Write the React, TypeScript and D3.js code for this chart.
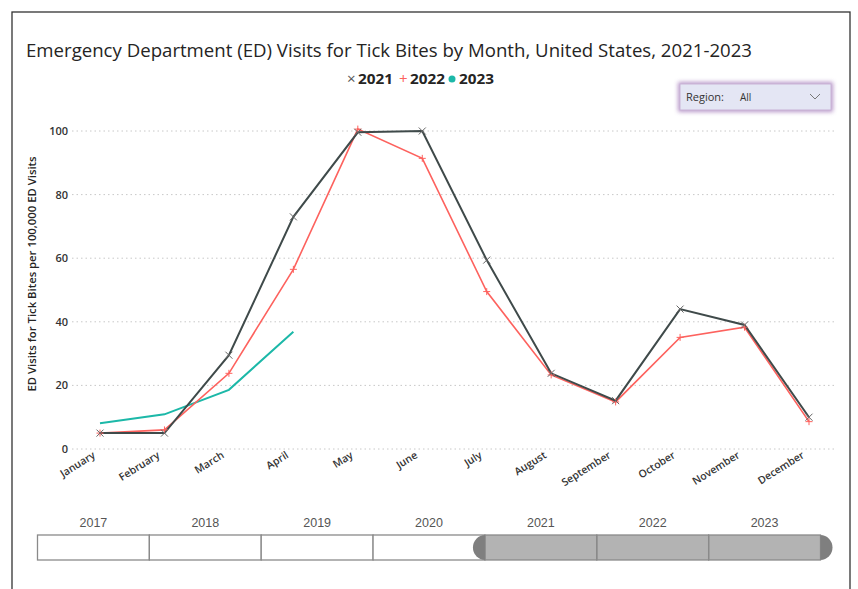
import React from "react";
import * as d3 from "d3";

const months = ["January","February","March","April","May","June","July","August","September","October","November","December"];
const series2021 = [5, 5, 29.5, 73, 99.6, 100, 59.4, 23.8, 15.2, 44, 39, 10];
const series2022 = [5, 6, 23.8, 56.5, 100.6, 91.4, 49.5, 23.3, 14.8, 35.1, 38.3, 8.6];
const series2023 = [8.1, 10.9, 18.6, 36.9];
const yTicks = [0, 20, 40, 60, 80, 100];
const years = ["2017","2018","2019","2020","2021","2022","2023"];
const selectedYears = ["2021","2022","2023"];

const C2021 = "#3f4a4a";
const C2022 = "#fd625e";
const C2023 = "#1cb8a8";
const FONT = "'Open Sans', 'Noto Sans', sans-serif";

export default function App() {
  const x = d3.scalePoint<string>().domain(months).range([100, 809]);
  const y = d3.scaleLinear().domain([0, 100]).range([449, 131]);
  const line = d3.line<number>().x((_, i) => x(months[i]) as number).y((d) => y(d));
  const yearX = d3.scaleBand<string>().domain(years).range([37.5, 820.5]);

  const selStart = yearX(selectedYears[0]) as number;
  const selEnd = (yearX(selectedYears[selectedYears.length - 1]) as number) + yearX.bandwidth();
  const top = 535, bot = 560;

  return (
    <svg width={858} height={589} style={{ position: "absolute", left: 0, top: 0, background: "#fff" }} fontFamily={FONT}>
      <defs>
        <filter id="glow" x="-10%" y="-30%" width="120%" height="160%">
          <feGaussianBlur stdDeviation="2" />
        </filter>
      </defs>
      <rect x={0} y={0} width={858} height={589} fill="#fff" />
      <rect x={12} y={12} width={838} height={620} fill="none" stroke="#333" strokeWidth={1.3} />

      {/* Title */}
      <text x={26} y={57} fontSize={19} fill="#252423" textLength={726} lengthAdjust="spacingAndGlyphs">
        Emergency Department (ED) Visits for Tick Bites by Month, United States, 2021-2023
      </text>

      {/* Legend */}
      <g fontSize={14} fontWeight={700} fill="#252423">
        <text x={347} y={84} fontWeight={400} fill="#555" fontSize={15}>×</text>
        <text x={358} y={84} textLength={35} lengthAdjust="spacingAndGlyphs">2021</text>
        <text x={399} y={84} fontWeight={400} fill={C2022} fontSize={15}>+</text>
        <text x={410} y={84} textLength={35} lengthAdjust="spacingAndGlyphs">2022</text>
        <circle cx={452} cy={79} r={3.5} fill={C2023} />
        <text x={459} y={84} textLength={35} lengthAdjust="spacingAndGlyphs">2023</text>
      </g>

      {/* Region slicer */}
      <rect x={678} y={82} width={155} height={30} fill="#a77fbd" opacity={0.8} filter="url(#glow)" />
      <rect x={680} y={84} width={151} height={26} fill="#e4e6f4" stroke="#c9b3d6" strokeWidth={1} />
      <text x={686} y={101} fontSize={11} fill="#333">Region:</text>
      <text x={740} y={101} fontSize={10} fill="#333">All</text>
      <path d="M810,94 L815,99 L820,94" fill="none" stroke="#777" strokeWidth={1} />

      {/* Gridlines */}
      {yTicks.map((t) => (
        <line key={t} x1={72} x2={836} y1={y(t)} y2={y(t)} stroke="#c8c8c8" strokeWidth={1} strokeDasharray="1.5,3" />
      ))}
      {yTicks.map((t) => (
        <text key={"l" + t} x={68} y={y(t) + 4} textAnchor="end" fontSize={11} fontWeight={600} fill="#333">
          {t}
        </text>
      ))}
      <text
        transform={`translate(36,274) rotate(-90)`}
        textAnchor="middle"
        fontSize={10.5}
        fontWeight={600}
        fill="#252423"
        textLength={235}
        lengthAdjust="spacingAndGlyphs"
      >
        ED Visits for Tick Bites per 100,000 ED Visits
      </text>

      {/* X labels */}
      {months.map((m) => (
        <text
          key={m}
          transform={`translate(${(x(m) as number) - 4},${457}) rotate(-32)`}
          textAnchor="end"
          fontSize={10.5}
          fontWeight={600}
          fill="#333"
        >
          {m}
        </text>
      ))}

      {/* Lines */}
      <path d={line(series2023) || ""} fill="none" stroke={C2023} strokeWidth={2} />
      <path d={line(series2022) || ""} fill="none" stroke={C2022} strokeWidth={1.6} />
      <path d={line(series2021) || ""} fill="none" stroke={C2021} strokeWidth={2} />

      {series2022.map((v, i) => {
        const cx = x(months[i]) as number;
        const cy = y(v);
        return (
          <path key={"p" + i} d={`M${cx - 3.5},${cy} H${cx + 3.5} M${cx},${cy - 3.5} V${cy + 3.5}`} stroke={C2022} strokeWidth={1} />
        );
      })}
      {series2021.map((v, i) => {
        const cx = x(months[i]) as number;
        const cy = y(v);
        return (
          <path key={"x" + i} d={`M${cx - 3.5},${cy - 3.5} L${cx + 3.5},${cy + 3.5} M${cx - 3.5},${cy + 3.5} L${cx + 3.5},${cy - 3.5}`} stroke="#666" strokeWidth={1} />
        );
      })}

      {/* Timeline slicer */}
      {years.map((yr) => (
        <text key={"t" + yr} x={(yearX(yr) as number) + yearX.bandwidth() / 2} y={527} textAnchor="middle" fontSize={12.5} fill="#555" fontFamily="'Liberation Sans', Arial, sans-serif">
          {yr}
        </text>
      ))}
      <rect x={selStart} y={top} width={selEnd - selStart} height={bot - top} fill="#b3b3b3" />
      {years.map((yr) => {
        const sel = selectedYears.includes(yr);
        return (
          <rect key={"b" + yr} x={yearX(yr) as number} y={top} width={yearX.bandwidth()} height={bot - top} fill={sel ? "none" : "#fff"} stroke="#8a8a8a" strokeWidth={1.3} />
        );
      })}
      <path d={`M${selStart},${top} A12,12.5 0 0 0 ${selStart},${bot} Z`} fill="#7f7f7f" />
      <path d={`M${selEnd},${top} A12,12.5 0 0 1 ${selEnd},${bot} Z`} fill="#7f7f7f" />
    </svg>
  );
}
